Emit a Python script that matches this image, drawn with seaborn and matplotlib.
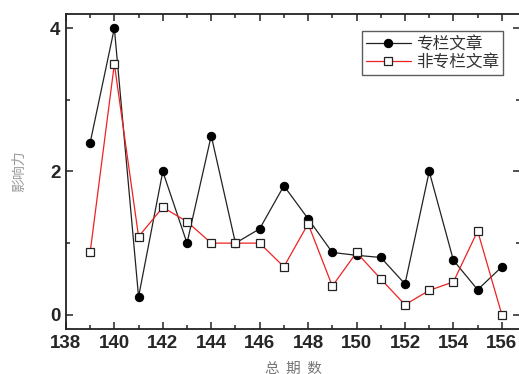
import numpy as np
import pandas as pd
import matplotlib
matplotlib.use('Agg')
import matplotlib.pyplot as plt
from matplotlib.ticker import MultipleLocator
import seaborn as sns

# data
issues = list(range(139, 157))
column_vals = [2.4, 4.0, 0.25, 2.0, 1.0, 2.5, 1.0, 1.2, 1.8, 1.34,
               0.87, 0.83, 0.8, 0.43, 2.0, 0.76, 0.35, 0.67]
noncolumn_vals = [0.87, 3.5, 1.09, 1.5, 1.3, 1.0, 1.0, 1.0, 0.67, 1.27,
                  0.4, 0.87, 0.5, 0.14, 0.34, 0.46, 1.17, 0.0]
series_names = ['专栏文章', '非专栏文章']

sns.set_style('ticks')
plt.rcParams['font.family'] = ['Liberation Sans', 'Noto Sans CJK SC', 'DejaVu Sans']

df = pd.DataFrame({'issue': issues, 'col': column_vals, 'noncol': noncolumn_vals})

fig = plt.figure(figsize=(5.19, 3.74), dpi=100)
ax = fig.add_axes([0.127, 0.120, 0.875, 0.843])

sns.lineplot(data=df, x='issue', y='col', ax=ax, color='#222222', linewidth=0.9,
             marker='o', markersize=6, markerfacecolor='black',
             markeredgecolor='black', label=series_names[0])
sns.lineplot(data=df, x='issue', y='noncol', ax=ax, color='#ee2222', linewidth=0.9,
             marker='s', markersize=6, markerfacecolor='white',
             markeredgecolor='#222222', markeredgewidth=0.9, label=series_names[1])

ax.set_xlim(138, 156.75)
ax.set_ylim(-0.2, 4.2)
ax.xaxis.set_major_locator(MultipleLocator(2))
ax.xaxis.set_minor_locator(MultipleLocator(1))
ax.yaxis.set_major_locator(MultipleLocator(2))
ax.yaxis.set_minor_locator(MultipleLocator(1))
ax.tick_params(which='both', direction='in', top=True, right=True, width=1.1, color='#222222')
ax.tick_params(which='major', length=5, labelsize=13.5, pad=4)
ax.tick_params(which='minor', length=3)
for lab in ax.get_xticklabels() + ax.get_yticklabels():
    lab.set_fontweight('bold')
for sp in ax.spines.values():
    sp.set_linewidth(1.3)
    sp.set_color('#222222')

ax.set_xlabel('总  期  数', fontsize=10.5, color='#777777', labelpad=7,
              family=['Noto Sans CJK SC', 'DejaVu Sans'])
ax.set_ylabel('影响力', fontsize=10, color='#999999', labelpad=17,
              family=['Noto Sans CJK SC', 'DejaVu Sans'])

leg = ax.legend(loc='upper right', bbox_to_anchor=(0.963, 0.945), borderaxespad=0,
                frameon=True, fancybox=False, edgecolor='#333333',
                handlelength=2.7, handletextpad=0.3, borderpad=0.25,
                labelspacing=0.1, prop={'family': ['Noto Sans CJK SC', 'DejaVu Sans'], 'size': 12})
leg.get_frame().set_linewidth(1.0)
for t in leg.get_texts():
    t.set_color('#333333')

fig.savefig('out.png', dpi=100)
